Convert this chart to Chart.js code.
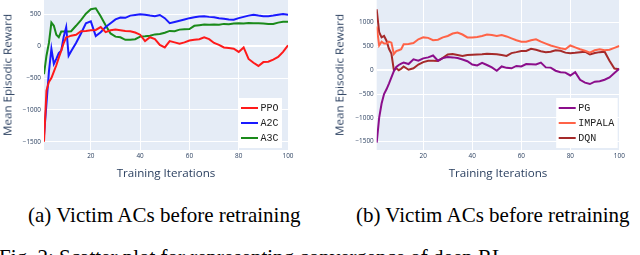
<!DOCTYPE html>
<html>
<head>
<meta charset="utf-8">
<script src="https://cdn.jsdelivr.net/npm/chart.js@4.4.1/dist/chart.umd.min.js"></script>
<style>
  html, body { margin: 0; padding: 0; width: 640px; height: 255px; overflow: hidden; background: #fff; }
  .wrap { position: absolute; }
  .axtitle { position: absolute; font-family: "Open Sans", sans-serif; font-size: 11.6px; color: #2a3f5f; white-space: nowrap; }
  .ytitle { transform: translate(-50%, -50%) rotate(-90deg); }
  .xtitle { transform: translate(-50%, -50%); }
  .caption { position: absolute; font-family: "Liberation Serif", "Times New Roman", serif; font-size: 21px; color: #000; white-space: nowrap; }
</style>
</head>
<body>

<div class="wrap" style="left:0px; top:0px; width:300px; height:165px;"><canvas id="chartA"></canvas></div>
<div class="wrap" style="left:330px; top:0px; width:300px; height:165px;"><canvas id="chartB"></canvas></div>

<div class="axtitle ytitle" style="left:7px; top:75px;">Mean Episodic Reward</div>
<div class="axtitle xtitle" style="left:166px; top:172px;">Training Iterations</div>
<div class="axtitle ytitle" style="left:339px; top:75px;">Mean Episodic Reward</div>
<div class="axtitle xtitle" style="left:498px; top:172px;">Training Iterations</div>

<div class="caption" style="left:28px; top:203px;">(a) Victim ACs before retraining</div>
<div class="caption" style="left:356px; top:203px;">(b) Victim ACs before retraining</div>
<div class="caption" style="left:-1px; top:245px;">Fig. 2: Scatter plot for representing convergence of deep RL</div>

<script>
// training iterations shared by every series
const iterations = [1, 2, 3, 4, 5, 6, 7, 8, 9, 10, 11, 12, 14, 16, 18, 20, 22, 24, 26, 28,
    30, 32, 34, 36, 38, 40, 42, 44, 46, 48, 50, 52, 54, 56, 58, 60, 62, 64, 66, 68,
    70, 72, 74, 76, 78, 80, 82, 84, 86, 88, 90, 92, 94, 96, 98, 100];

const xTicks = [20, 40, 60, 80, 100];
const yTicksA = [-1500, -1000, -500, 0, 500];
const yTicksB = [-1500, -1000, -500, 0, 500, 1000];

// (a) actor-critic victims
const ppo = [-1500, -700, -560, -500, -400, -300, -180, -70, 50, 140, 150, 165, 180, 235, 240, 250, 255, 300, 220, 250,
    260, 250, 240, 235, 215, 180, 80, 140, 110, 20, -20, 80, 60, 40, 60, 90, 100, 110, 140, 110,
    50, 20, -20, -30, -40, -90, -20, -200, -260, -310, -250, -245, -210, -170, -90, 15];
const a2c = [-1400, -900, -400, -40, -280, -200, -110, -70, 150, 300, -150, -80, 50, 200, 360, 390, 160, 220, 300, 360,
    420, 450, 445, 480, 490, 500, 495, 480, 470, 490, 440, 360, 380, 400, 420, 440, 455, 465, 470, 460,
    455, 440, 430, 420, 415, 440, 460, 480, 495, 480, 470, 470, 480, 495, 505, 495];
const a3c = [-440, -150, 50, 370, 320, 180, 140, 230, 230, 230, 230, 235, 320, 410, 510, 580, 595, 470, 330, 200,
    150, 140, 100, 100, 110, 150, 155, 165, 185, 190, 210, 240, 235, 260, 265, 270, 320, 330, 340, 335,
    340, 335, 350, 345, 355, 360, 355, 365, 360, 360, 355, 350, 350, 370, 385, 385];

// (b) other victims
const pg = [-1520, -1000, -700, -500, -400, -280, -150, -20, 70, 110, 140, 160, 130, 230, 200, 250, 270, 310, 200, 255,
    280, 270, 255, 225, 190, 120, 100, 155, 110, 60, -10, 80, 50, 40, 90, 80, 130, 125, 120, 160,
    60, 55, -10, -40, -50, -110, -40, -200, -260, -290, -240, -230, -200, -150, -60, 30];
const impala = [920, 520, 600, 560, 560, 600, 580, 340, 400, 420, 440, 545, 550, 570, 650, 690, 680, 630, 640, 690,
    720, 770, 790, 750, 690, 690, 700, 720, 750, 740, 720, 740, 710, 670, 630, 600, 600, 630, 650, 600,
    560, 520, 490, 460, 440, 520, 480, 440, 410, 370, 420, 440, 420, 430, 470, 510];
const dqn = [1280, 800, 690, 720, 620, 450, 350, 0, 40, 0, 30, 80, 10, 40, 120, 170, 200, 200, 195, 260,
    330, 340, 320, 300, 320, 325, 330, 335, 345, 340, 335, 320, 300, 360, 380, 405, 405, 450, 430, 400,
    380, 390, 420, 410, 370, 355, 365, 380, 390, 330, 360, 380, 390, 200, 35, 20];

const tickColor = '#2a3f5f';

function series(label, values, color) {
    return {
        label: label,
        data: values.map((v, i) => ({ x: iterations[i], y: v })),
        borderColor: color,
        backgroundColor: color,
        borderWidth: 2,
        pointRadius: 0,
        tension: 0,
        fill: false
    };
}

// plotly-like light blue plot background
const plotBg = {
    id: 'plotBg',
    beforeDraw(chart) {
        const a = chart.chartArea;
        const ctx = chart.ctx;
        ctx.save();
        ctx.fillStyle = '#e5ecf6';
        ctx.fillRect(a.left, a.top, a.right - a.left, a.bottom - a.top);
        ctx.restore();
    }
};

// legend box drawn inside the plot, bottom right
const boxLegend = {
    id: 'boxLegend',
    afterDraw(chart, args, opts) {
        const ctx = chart.ctx;
        const a = chart.chartArea;
        const sets = chart.data.datasets;
        ctx.save();
        ctx.font = '10px "Liberation Mono", monospace';
        let textW = 0;
        sets.forEach(ds => { textW = Math.max(textW, ctx.measureText(ds.label).width); });
        const w = 2.5 + 17 + 2.5 + textW + 3.5;
        const h = 20 + 15 * (sets.length - 1);
        const right = a.right - opts.rightGap;
        const bottom = a.bottom - 2;
        const left = right - w;
        const top = bottom - h;
        ctx.fillStyle = '#ffffff';
        ctx.fillRect(left, top, w, h);
        sets.forEach((ds, i) => {
            const y = top + 10 + 15 * i;
            ctx.strokeStyle = ds.borderColor;
            ctx.lineWidth = 2;
            ctx.beginPath();
            ctx.moveTo(left + 2.5, y);
            ctx.lineTo(left + 19.5, y);
            ctx.stroke();
            ctx.fillStyle = '#222';
            ctx.textBaseline = 'middle';
            ctx.textAlign = 'left';
            ctx.fillText(ds.label, left + 22, y + 0.5);
        });
        ctx.restore();
    }
};

function makeChart(id, datasets, yMin, yMax, yTicks, yWidth, rightPad, legendGap) {
    return new Chart(document.getElementById(id), {
        type: 'line',
        data: { datasets: datasets },
        plugins: [plotBg, boxLegend],
        options: {
            responsive: true,
            maintainAspectRatio: false,
            animation: false,
            layout: { padding: { left: 0, right: rightPad, top: 0, bottom: 0 } },
            scales: {
                x: {
                    type: 'linear',
                    min: 1,
                    max: 100,
                    afterBuildTicks: scale => { scale.ticks = xTicks.map(v => ({ value: v })); },
                    afterFit: scale => {
                        scale.height = 15;
                        scale.paddingLeft = 0;
                        scale.paddingRight = 0;
                    },
                    grid: { color: '#ffffff', lineWidth: 1, drawTicks: false },
                    border: { display: false },
                    ticks: {
                        padding: 2,
                        maxRotation: 0,
                        color: tickColor,
                        font: { family: '"Open Sans", sans-serif', size: 6.4 }
                    }
                },
                y: {
                    type: 'linear',
                    min: yMin,
                    max: yMax,
                    afterBuildTicks: scale => { scale.ticks = yTicks.map(v => ({ value: v })); },
                    afterFit: scale => {
                        scale.width = yWidth;
                        scale.paddingTop = 0;
                        scale.paddingBottom = 0;
                    },
                    grid: {
                        color: '#ffffff',
                        lineWidth: ctx => (ctx.tick && ctx.tick.value === 0 ? 2 : 1),
                        drawTicks: false
                    },
                    border: { display: false },
                    ticks: {
                        padding: 3,
                        color: tickColor,
                        font: { family: '"Open Sans", sans-serif', size: 6.4 },
                        callback: v => (v < 0 ? '\u2212' + Math.abs(v) : String(v))
                    }
                }
            },
            plugins: {
                legend: { display: false },
                tooltip: { enabled: false },
                boxLegend: { rightGap: legendGap }
            }
        }
    });
}

makeChart('chartA', [
    series('PPO', ppo, '#ff1a1a'),
    series('A2C', a2c, '#1a1aff'),
    series('A3C', a3c, '#1a8a1a')
], -1630, 725, yTicksA, 44, 12, 6);

makeChart('chartB', [
    series('PG', pg, '#8b0e8b'),
    series('IMPALA', impala, '#ff6347'),
    series('DQN', dqn, '#a52a2a')
], -1675, 1475, yTicksB, 46.7, 10.7, 1.6);
</script>
</body>
</html>
